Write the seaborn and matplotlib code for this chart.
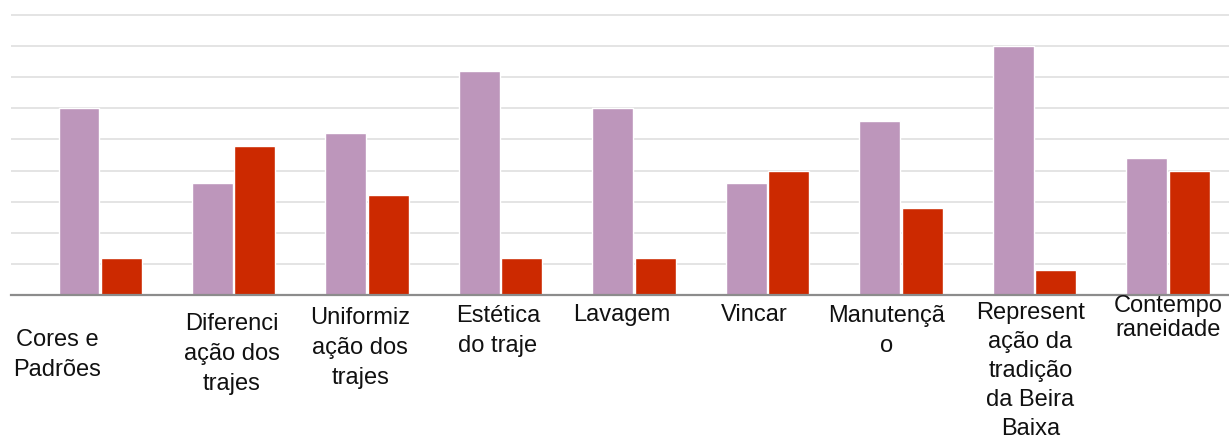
import matplotlib
matplotlib.use('Agg')
import matplotlib.pyplot as plt
import matplotlib.transforms as mtransforms
import numpy as np
import pandas as pd
import seaborn as sns

# Dados
categorias = ["Cores e\nPadrões", "Diferenci\nação dos\ntrajes", "Uniformiz\nação dos\ntrajes",
              "Estética\ndo traje", "Lavagem", "Vincar", "Manutençã\no",
              "Represent\nação da\ntradição\nda Beira\nBaixa", "Contempo\nraneidade"]
serie_1 = [15, 9, 13, 18, 15, 9, 14, 20, 11]
serie_2 = [3, 12, 8, 3, 3, 10, 7, 2, 10]

# Posição dos rótulos (deslocamento x em categorias, centro y em píxeis a partir do topo)
rotulo_dx = [-0.32, -0.015, -0.05, -0.02, -0.09, -0.1, -0.11, -0.03, 0.0]
rotulo_y = [355, 354, 348, 331, 315, 315, 331, 371, 318]
rotulo_esp = [1.45, 1.45, 1.45, 1.45, 1.45, 1.45, 1.45, 1.4, 1.15]

df = pd.DataFrame({
    "categoria": categorias * 2,
    "valor": serie_1 + serie_2,
    "serie": ["Série 1"] * len(categorias) + ["Série 2"] * len(categorias),
})

sns.set_style("white")
plt.rcParams['font.family'] = ['Liberation Sans', 'DejaVu Sans']

fig = plt.figure(figsize=(12.29, 4.46), dpi=100)
ax = fig.add_axes([11 / 1229, 1 - 295 / 446, 1 - 11 / 1229, 290 / 446])

sns.barplot(data=df, x="categoria", y="valor", hue="serie",
            palette=["#BD96BB", "#CC2900"], width=0.635, gap=0.04,
            saturation=1, legend=False, ax=ax)

ax.set_xlim(-0.667, 8.457)
ax.set_ylim(0, 22.5 * 290 / 280)
ax.set_yticks(np.arange(2.5, 23, 2.5))
ax.yaxis.grid(True, color="#E2E2E2", linewidth=1.3)
ax.set_axisbelow(True)
ax.tick_params(axis="both", length=0, labelleft=False, labelbottom=False)
ax.set_xlabel("")
ax.set_ylabel("")
for s in ["top", "right", "left"]:
    ax.spines[s].set_visible(False)
ax.spines["bottom"].set_color("#8C8C8C")
ax.spines["bottom"].set_linewidth(1.6)

trans = mtransforms.blended_transform_factory(ax.transData, fig.transFigure)
for i, txt in enumerate(categorias):
    ax.text(i + rotulo_dx[i], 1 - rotulo_y[i] / 446, txt, transform=trans,
            ha="center", va="center", multialignment="center",
            fontsize=17, linespacing=rotulo_esp[i], color="#111111", clip_on=False)

fig.savefig("out.png", dpi=100)
